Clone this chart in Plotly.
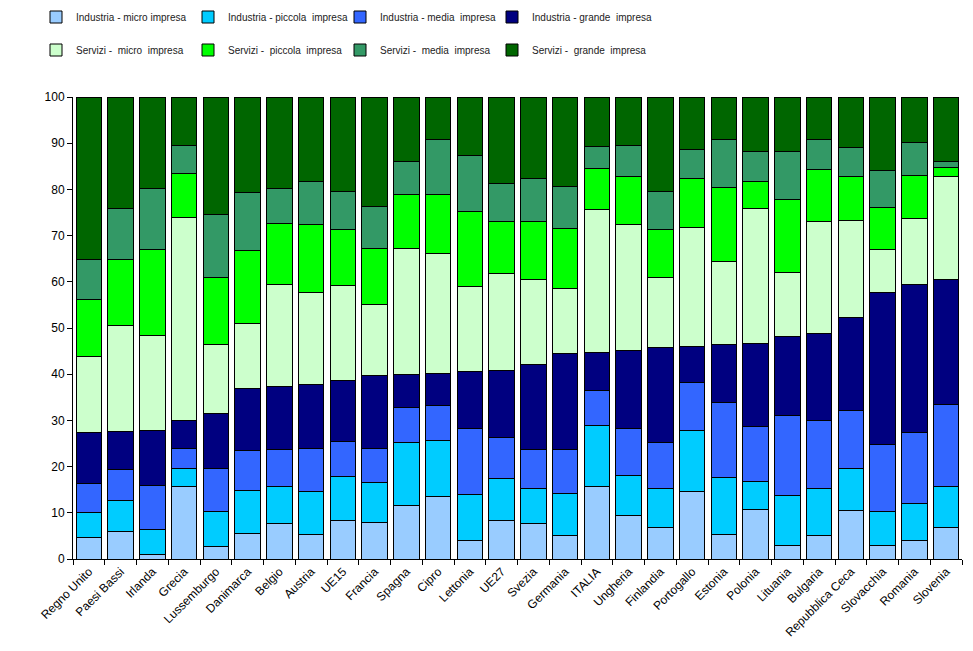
import plotly.graph_objects as go

# paesi (asse x)
paesi = ['Regno Unito', 'Paesi Bassi', 'Irlanda', 'Grecia', 'Lussemburgo', 'Danimarca', 'Belgio',
         'Austria', 'UE15', 'Francia', 'Spagna', 'Cipro', 'Lettonia', 'UE27', 'Svezia', 'Germania',
         'ITALIA', 'Ungheria', 'Finlandia', 'Portogallo', 'Estonia', 'Polonia', 'Lituania',
         'Bulgaria', 'Repubblica Ceca', 'Slovacchia', 'Romania', 'Slovenia']

# quote % per settore e dimensione d'impresa
ind_micro = [4.7, 6.0, 1.0, 15.7, 2.7, 5.6, 7.6, 5.3, 8.4, 7.9, 11.5, 13.5, 4.0, 8.4, 7.7, 5.1,
             15.7, 9.5, 6.9, 14.6, 5.3, 10.8, 3.0, 5.1, 10.4, 3.0, 4.0, 6.9]
ind_piccola = [5.4, 6.6, 5.4, 3.9, 7.5, 9.3, 8.1, 9.3, 9.5, 8.7, 13.8, 12.1, 10.0, 9.1, 7.6, 9.0,
               13.2, 8.6, 8.4, 13.2, 12.4, 6.0, 10.8, 10.2, 9.2, 7.2, 8.0, 8.8]
ind_media = [6.2, 6.8, 9.5, 4.4, 9.4, 8.5, 8.1, 9.4, 7.6, 7.4, 7.5, 7.6, 14.3, 8.7, 8.5, 9.7,
             7.6, 10.1, 9.9, 10.4, 16.2, 11.8, 17.3, 14.6, 12.5, 14.5, 15.3, 17.8]
ind_grande = [11.1, 8.2, 11.9, 5.9, 12.0, 13.4, 13.6, 13.7, 13.1, 15.8, 7.2, 6.9, 12.2, 14.6, 18.3, 20.7,
              8.2, 17.0, 20.6, 7.9, 12.6, 18.1, 17.1, 19.0, 20.1, 32.9, 32.2, 27.1]
serv_micro = [16.5, 23.0, 20.6, 44.1, 14.9, 14.1, 22.1, 20.0, 20.6, 15.3, 27.2, 26.1, 18.5, 20.9, 18.4, 14.1,
              31.0, 27.2, 15.2, 25.7, 17.9, 29.1, 13.9, 24.2, 21.1, 9.3, 14.3, 22.2]
serv_piccola = [12.3, 14.3, 18.5, 9.5, 14.5, 15.9, 13.2, 14.6, 12.2, 12.1, 11.8, 12.6, 16.3, 11.4, 12.6, 13.0,
                8.9, 10.4, 10.4, 10.6, 16.0, 5.9, 15.8, 11.2, 9.5, 9.1, 9.2, 2.0]
serv_media = [8.7, 10.9, 13.3, 6.1, 13.6, 12.5, 7.4, 9.4, 8.1, 9.2, 7.1, 11.9, 12.1, 8.1, 9.3, 9.0,
              4.6, 6.8, 8.1, 6.3, 10.5, 6.6, 10.4, 6.4, 6.2, 8.1, 7.2, 1.3]
serv_grande = [35.1, 24.2, 19.8, 10.4, 25.4, 20.7, 19.9, 18.3, 20.5, 23.6, 13.9, 9.3, 12.6, 18.8, 17.6, 19.4,
               10.8, 10.4, 20.5, 11.3, 9.1, 11.7, 11.7, 9.3, 11.0, 15.9, 9.8, 13.9]

serie = [
    ('Industria - micro impresa', ind_micro, '#99CCFF'),
    ('Industria - piccola  impresa', ind_piccola, '#00CCFF'),
    ('Industria - media  impresa', ind_media, '#3366FF'),
    ('Industria - grande  impresa', ind_grande, '#000080'),
    ('Servizi -  micro  impresa', serv_micro, '#CCFFCC'),
    ('Servizi -  piccola  impresa', serv_piccola, '#00FF00'),
    ('Servizi -  media  impresa', serv_media, '#339966'),
    ('Servizi -  grande  impresa', serv_grande, '#006600'),
]

# la pagina ha 8px di margine del body: figura 965x643
W, H = 965, 643
col_x = [28, 180, 332, 484]   # inizio di ogni colonna della legenda (px)
riga_y = [9, 42]              # centro di ogni riga della legenda (px)

font_leg = dict(family='Liberation Sans, Arial', size=10, color='#222222')

fig = go.Figure()
legends = {}
for i, (nome, valori, colore) in enumerate(serie):
    key = 'legend' if i == 0 else 'legend%d' % (i + 1)
    fig.add_trace(go.Bar(x=paesi, y=valori, name=nome, legend=key, showlegend=True,
                         marker=dict(color=colore, line=dict(color='black', width=1))))
    legends[key] = dict(xref='container', yref='container',
                        x=col_x[i % 4] / W, y=1 - riga_y[i // 4] / H,
                        xanchor='left', yanchor='middle', font=font_leg,
                        itemwidth=30, bgcolor='rgba(0,0,0,0)')

fig.update_layout(
    barmode='stack',
    bargap=0.2,
    width=W, height=H,
    showlegend=True,
    margin=dict(l=65, r=11, t=89, b=92, autoexpand=False),
    plot_bgcolor='white',
    paper_bgcolor='white',
    font=dict(family='Liberation Sans, Arial', size=12, color='black'),
    **legends,
)
fig.update_xaxes(showline=True, linecolor='black', linewidth=1, ticks='outside', tickson='boundaries',
                 ticklen=5, tickcolor='black', tickangle=-45, tickfont=dict(size=12), showgrid=False)
fig.update_yaxes(range=[0, 100], dtick=10, showline=True, linecolor='black', linewidth=1,
                 ticks='outside', ticklen=5, tickcolor='black', showgrid=False, zeroline=False,
                 tickfont=dict(size=12))

fig.write_html("out.html")
